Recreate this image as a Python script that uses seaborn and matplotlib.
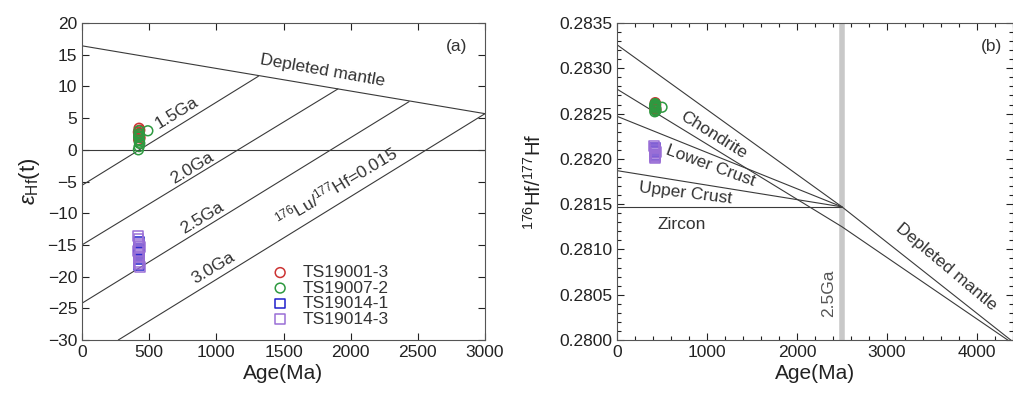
import numpy as np
import pandas as pd
import matplotlib
matplotlib.use("Agg")
import matplotlib.pyplot as plt
import seaborn as sns
from matplotlib.ticker import MultipleLocator

# ---------------- data ----------------
samples = ["TS19001-3", "TS19007-2", "TS19014-1", "TS19014-3"]
sample_colors = ["#cc3333", "#2e9940", "#1f1fcc", "#9a6fd6"]
sample_markers = ["o", "o", "s", "s"]
draw_order = [5, 6, 7, 8]

# panel (a): age (Ma) and eHf(t)
age_a = {
    "TS19001-3": [425, 430, 420, 428, 432, 422, 426, 424],
    "TS19007-2": [420, 425, 430, 428, 422, 426, 424, 427, 423, 490],
    "TS19014-1": [425, 426, 424, 425, 427, 425],
    "TS19014-3": [415, 420, 425, 430, 418, 428, 422, 426, 420, 430],
}
ehf = {
    "TS19001-3": [3.4, 3.1, 2.8, 2.4, 1.9, 1.6, 2.2, 2.6],
    "TS19007-2": [0.0, 0.5, 1.0, 1.5, 2.0, 2.5, 3.0, 1.2, 2.2, 3.0],
    "TS19014-1": [-14.5, -15.7, -15.9, -16.3, -17.3, -18.2],
    "TS19014-3": [-13.6, -14.1, -14.9, -15.3, -16.0, -16.7, -17.0, -17.7, -18.0, -18.5],
}
# panel (b): 176Hf/177Hf
age_b = {
    "TS19001-3": [425, 430, 420, 428, 432, 422, 426],
    "TS19007-2": [420, 425, 430, 428, 422, 426, 424, 432, 418, 500],
    "TS19014-1": [425, 426, 424, 425, 427],
    "TS19014-3": [415, 420, 425, 430, 418, 428, 422, 426, 420],
}
hf_ratio = {
    "TS19001-3": [0.28262, 0.28260, 0.28258, 0.28256, 0.28254, 0.28255, 0.28257],
    "TS19007-2": [0.28252, 0.28254, 0.28256, 0.28257, 0.28259, 0.28260, 0.28261, 0.28253, 0.28258, 0.28257],
    "TS19014-1": [0.282125, 0.282105, 0.28209, 0.282075, 0.282045],
    "TS19014-3": [0.28214, 0.28212, 0.28210, 0.28208, 0.28206, 0.28204, 0.28203, 0.28202, 0.28201],
}

# reference lines, panel (a)  (age, eHf)
dm_a_age = [0, 3000]
dm_a_ehf = [16.4, 5.7]
crust_lines_a = {
    "1.5Ga": ([0, 1313], [-5.6, 11.6]),
    "2.0Ga": ([0, 1905], [-15.0, 9.6]),
    "2.5Ga": ([0, 2435], [-24.2, 7.6]),
    "3.0Ga": ([270, 3000], [-30.0, 5.7]),
}
# reference lines, panel (b)  (age, 176Hf/177Hf)
lines_b = {
    "Depleted mantle": ([0, 2500, 4400], [0.28326, 0.28147, 0.27998]),
    "Chondrite": ([0, 2500, 4400], [0.28277, 0.28125, 0.27996]),
    "Lower Crust": ([0, 2500], [0.28247, 0.28147]),
    "Upper Crust": ([0, 2500], [0.28187, 0.28147]),
    "Zircon": ([0, 2500], [0.281465, 0.281465]),
}

# ---------------- style ----------------
sns.set_style("ticks")
plt.rcParams["font.family"] = ["Liberation Sans", "DejaVu Sans"]
plt.rcParams["mathtext.fontset"] = "custom"
plt.rcParams["mathtext.rm"] = "Liberation Sans"
plt.rcParams["mathtext.it"] = "Liberation Sans:italic"
plt.rcParams["xtick.direction"] = "in"
plt.rcParams["ytick.direction"] = "in"

LC = "#3a3a3a"
LW = 0.8
TC = "#333333"
FS_T = 12.5   # annotation text
FS_TICK = 12.5
FS_LAB = 15

fig = plt.figure(figsize=(10.13, 3.96), dpi=100)
axa = fig.add_axes([82 / 1013, 1 - 340 / 396, 403 / 1013, 317 / 396])
axb = fig.add_axes([617 / 1013, 1 - 340 / 396, 396 / 1013, 317 / 396])


def frames(df_age, df_val, ax, size):
    for s, c, m, z in zip(samples, sample_colors, sample_markers, draw_order):
        d = pd.DataFrame({"age": df_age[s], "val": df_val[s]})
        sns.scatterplot(data=d, x="age", y="val", ax=ax, marker=m, s=size,
                        color=c, facecolor="none", edgecolor=c, linewidth=1.1,
                        label=s, zorder=z)


# ---------------- panel (a) ----------------
sns.lineplot(x=dm_a_age, y=dm_a_ehf, ax=axa, color=LC, lw=LW)
for k, (xx, yy) in crust_lines_a.items():
    sns.lineplot(x=xx, y=yy, ax=axa, color=LC, lw=LW)
axa.axhline(0, color=LC, lw=LW)
frames(age_a, ehf, axa, 50)

axa.set_xlim(0, 3000)
axa.set_ylim(-30, 20)
axa.xaxis.set_major_locator(MultipleLocator(500))
axa.yaxis.set_major_locator(MultipleLocator(5))
axa.tick_params(top=True, right=True, labelsize=FS_TICK, length=5, width=0.8, colors="#222222")
axa.set_xlabel("Age(Ma)", fontsize=FS_LAB, color="#222222", labelpad=3)
axa.set_ylabel(r"$\varepsilon_{\rm Hf}$(t)", fontsize=16, color="#222222", labelpad=4)

axa.text(2785, 16.3, "(a)", fontsize=FS_T, color=TC, ha="center", va="center")
axa.text(1790, 12.5, "Depleted mantle", fontsize=FS_T, color=TC, ha="center", va="center", rotation=-10)
axa.text(705, 5.8, "1.5Ga", fontsize=FS_T, color=TC, ha="center", va="center", rotation=31)
axa.text(817, -2.9, "2.0Ga", fontsize=FS_T, color=TC, ha="center", va="center", rotation=31)
axa.text(891, -10.8, "2.5Ga", fontsize=FS_T, color=TC, ha="center", va="center", rotation=31)
axa.text(978, -18.7, "3.0Ga", fontsize=FS_T, color=TC, ha="center", va="center", rotation=31)
axa.text(1896, -5.8, r"$^{176}$Lu/$^{177}$Hf=0.015", fontsize=FS_T, color=TC,
         ha="center", va="center", rotation=31)

leg = axa.legend(loc="upper left", bbox_to_anchor=(0.44, 0.275), frameon=False, fontsize=12.5,
                 handletextpad=0.8, labelspacing=0.02, borderpad=0.2, handlelength=1.0)
for t in leg.get_texts():
    t.set_color(TC)

for sp in axa.spines.values():
    sp.set_color("#555555")
    sp.set_linewidth(0.8)

# ---------------- panel (b) ----------------
axb.axvline(2500, color="#c8c8c8", lw=4, zorder=1)
for k, (xx, yy) in lines_b.items():
    sns.lineplot(x=xx, y=yy, ax=axb, color=LC, lw=LW)
frames(age_b, hf_ratio, axb, 50)
if axb.get_legend() is not None:
    axb.get_legend().remove()

axb.set_xlim(0, 4400)
axb.set_ylim(0.2800, 0.2835)
axb.xaxis.set_major_locator(MultipleLocator(1000))
axb.xaxis.set_minor_locator(MultipleLocator(200))
axb.yaxis.set_major_locator(MultipleLocator(0.0005))
axb.yaxis.set_minor_locator(MultipleLocator(0.0001))
axb.yaxis.set_major_formatter(matplotlib.ticker.FormatStrFormatter("%.4f"))
axb.tick_params(which="both", top=True, right=True, labelsize=FS_TICK, width=0.8, colors="#222222")
axb.tick_params(which="major", length=5)
axb.tick_params(which="minor", length=3)
axb.set_xlabel("Age(Ma)", fontsize=FS_LAB, color="#222222", labelpad=3)
axb.set_ylabel(r"$^{176}$Hf/$^{177}$Hf", fontsize=14.5, color="#222222", labelpad=10)

axb.text(4163, 0.28324, "(b)", fontsize=FS_T, color=TC, ha="center", va="center")
axb.text(1070, 0.28226, "Chondrite", fontsize=FS_T, color=TC, ha="center", va="center", rotation=-32)
axb.text(1040, 0.28192, "Lower Crust", fontsize=FS_T, color=TC, ha="center", va="center", rotation=-20)
axb.text(760, 0.28162, "Upper Crust", fontsize=FS_T, color=TC, ha="center", va="center", rotation=-7)
axb.text(718, 0.28127, "Zircon", fontsize=FS_T, color=TC, ha="center", va="center")
axb.text(3663, 0.28081, "Depleted mantle", fontsize=FS_T, color=TC, ha="center", va="center", rotation=-40)
axb.text(2348, 0.28052, "2.5Ga", fontsize=FS_T, color="#555555", ha="center", va="center", rotation=90)

for sp in axb.spines.values():
    sp.set_color("#555555")
    sp.set_linewidth(0.8)

fig.savefig("out.png", dpi=100)
